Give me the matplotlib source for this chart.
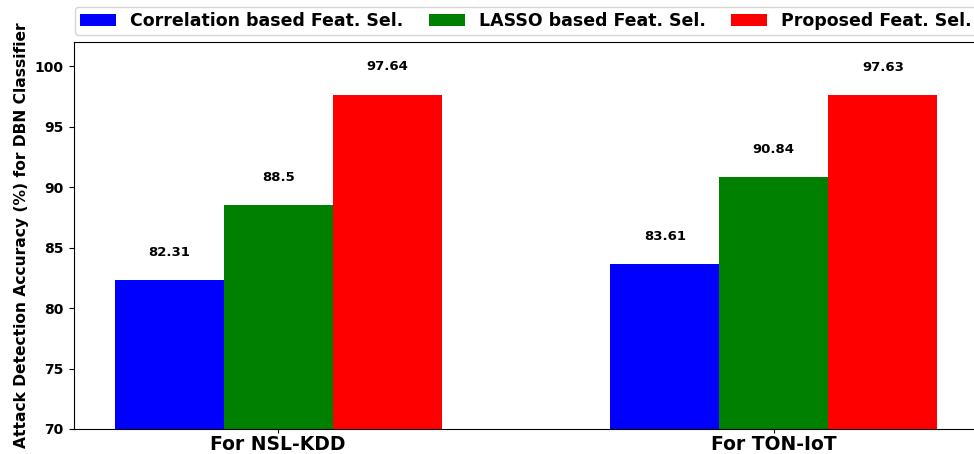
import matplotlib.pyplot as plt
import numpy as np

# Datasets and accuracies (%)
datasets = ['For NSL-KDD', 'For TON-IoT']
corr_values = [82.31, 83.61]
lasso_values = [88.5, 90.84]
proposed_values = [97.64, 97.63]
series_labels = ['Correlation based Feat. Sel.', 'LASSO based Feat. Sel.', 'Proposed Feat. Sel.']
colors = ['blue', 'green', 'red']

x = np.arange(len(datasets))
width = 0.22

fig = plt.figure(figsize=(9.74, 4.54), dpi=100)
# axes run slightly past the right edge of the figure, like the original
ax = fig.add_axes([73.5 / 974, 25 / 454, 905 / 974, 387 / 454])

all_values = [corr_values, lasso_values, proposed_values]
for i, (vals, lab, col) in enumerate(zip(all_values, series_labels, colors)):
    pos = x + (i - 1) * width
    bars = ax.bar(pos, vals, width, color=col, label=lab)
    for b, v in zip(bars, vals):
        ax.text(b.get_x() + b.get_width() / 2, v + 2.3, f'{v:g}',
                ha='center', va='center', fontsize=9.5, fontweight='bold')

ax.set_ylim(70, 102)
ax.set_xticks(x)
ax.set_xticklabels(datasets, fontsize=13.5, fontweight='bold')
ax.tick_params(axis='x', length=3, pad=1.5)
ax.set_yticks([70, 75, 80, 85, 90, 95, 100])
ax.tick_params(axis='y', labelsize=10)
for t in ax.get_yticklabels():
    t.set_fontweight('bold')
ax.set_ylabel('Attack Detection Accuracy (%) for DBN Classifier', fontsize=11.2, fontweight='bold')

ax.legend(loc='upper left', bbox_to_anchor=(75 / 974, 1 - 7 / 454), bbox_transform=fig.transFigure,
          ncol=3, prop={'weight': 'bold', 'size': 12.5},
          handlelength=2.1, handletextpad=0.8, columnspacing=1.45,
          borderpad=0.28, borderaxespad=0)

plt.savefig('out.png', dpi=100)
